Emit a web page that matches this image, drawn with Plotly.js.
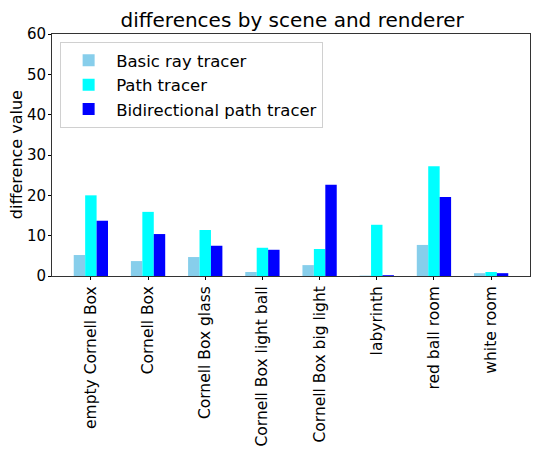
<!DOCTYPE html>
<html><head><meta charset="utf-8">
<script src="https://cdn.plot.ly/plotly-3.0.1.min.js"></script>
<style>body{margin:0;padding:0;background:#fff;}#chart{width:536px;height:450px;}</style>
</head><body><div id="chart"></div>
<script>
const categories = ["empty Cornell Box","Cornell Box","Cornell Box glass","Cornell Box light ball","Cornell Box big light","labyrinth","red ball room","white room"];
const basicRay = [5.2, 3.7, 4.7, 1.0, 2.7, 0.1, 7.7, 0.7];
const pathTracer = [20.0, 15.9, 11.4, 7.0, 6.7, 12.7, 27.2, 1.0];
const bidirPath = [13.7, 10.4, 7.5, 6.5, 22.6, 0.2, 19.6, 0.7];
const seriesNames = ["Basic ray tracer","Path tracer","Bidirectional path tracer"];
const colors = ["#87CEEB","#00FFFF","#0000FF"];
const yTicks = [0,10,20,30,40,50,60];

const idx = categories.map((_, i) => i);
const offsets = [-0.2, 0, 0.2];
const traces = [basicRay, pathTracer, bidirPath].map((vals, k) => ({
  type: 'bar',
  x: idx.map(i => i + offsets[k]),
  y: vals,
  width: 0.2,
  name: seriesNames[k],
  marker: {color: colors[k], line: {width: 0}},
  hoverinfo: 'y'
}));

const font = "DejaVu Sans, sans-serif";
const layout = {
  width: 536, height: 450,
  margin: {l: 52, r: 6, t: 34, b: 174},
  paper_bgcolor: '#fff', plot_bgcolor: '#fff',
  font: {family: font, size: 16, color: '#000'},
  title: {text: 'differences by scene and renderer', font: {family: font, size: 20, color: '#000'}, x: 0.545, xanchor: 'center', y: 0.955, yanchor: 'middle'},
  barmode: 'overlay',
  showlegend: true,
  legend: {x: 0.017, y: 0.967, xanchor: 'left', yanchor: 'top', bgcolor: 'rgba(255,255,255,0.8)', bordercolor: '#d0d0d0', borderwidth: 1, font: {family: font, size: 16.5, color: '#000'}, tracegroupgap: 4, itemwidth: 45},
  xaxis: {
    range: [-0.68, 7.68],
    tickmode: 'array', tickvals: idx, ticktext: categories,
    tickangle: -90, tickfont: {family: font, size: 15.5, color: '#000'},
    ticks: 'outside', ticklen: 3, tickcolor: '#000',
    showline: true, linecolor: '#333', linewidth: 1, mirror: true,
    showgrid: false, zeroline: false
  },
  yaxis: {
    range: [0, 60],
    tickmode: 'array', tickvals: yTicks,
    tickfont: {family: font, size: 15, color: '#000'},
    ticks: 'outside', ticklen: 3, tickcolor: '#000', ticklabelstandoff: -1,
    showline: true, linecolor: '#333', linewidth: 1, mirror: true,
    showgrid: false, zeroline: false
  },
  annotations: [{
    text: 'difference value', xref: 'paper', yref: 'paper',
    x: -0.075, y: 0.5, xanchor: 'center', yanchor: 'middle',
    textangle: -90, showarrow: false,
    font: {family: font, size: 16, color: '#000'}
  }]
};
Plotly.newPlot('chart', traces, layout, {displayModeBar: false, staticPlot: true});
</script></body></html>
